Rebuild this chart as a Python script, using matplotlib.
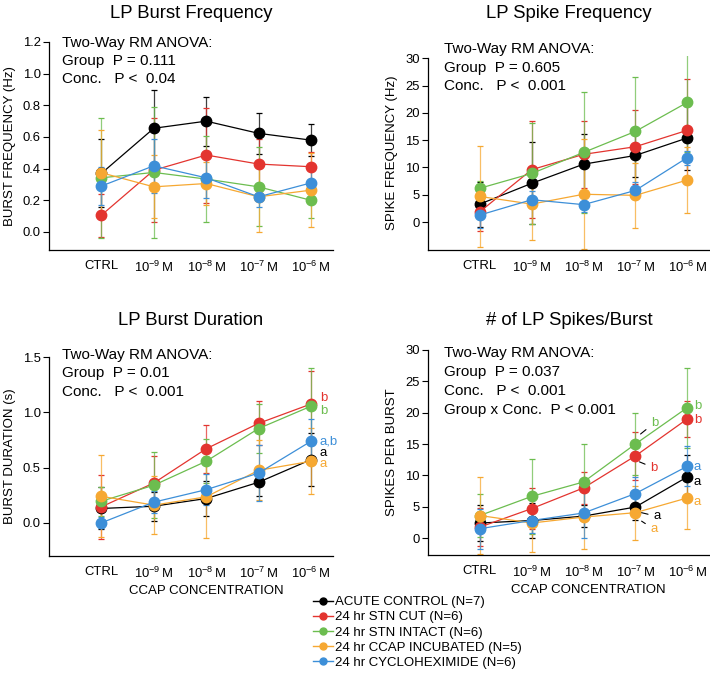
import matplotlib
matplotlib.use("Agg")
import matplotlib.pyplot as plt
from matplotlib.lines import Line2D

plt.rcParams["font.family"] = ["Liberation Sans", "DejaVu Sans"]
plt.rcParams["mathtext.default"] = "regular"

W, H = 710, 679

groups = ["ACUTE CONTROL (N=7)", "24 hr STN CUT (N=6)", "24 hr STN INTACT (N=6)",
          "24 hr CCAP INCUBATED (N=5)", "24 hr CYCLOHEXIMIDE (N=6)"]
colors = ["#000000", "#e3342f", "#6cbd4f", "#f6a832", "#3d8fd8"]
conc = ["CTRL", "10$^{-9}\\,$M", "10$^{-8}\\,$M", "10$^{-7}\\,$M", "10$^{-6}\\,$M"]

# rows follow the order of groups
burst_freq = [[0.37, 0.655, 0.70, 0.623, 0.58],
              [0.106, 0.39, 0.486, 0.429, 0.412],
              [0.342, 0.376, 0.334, 0.285, 0.20],
              [0.374, 0.285, 0.306, 0.222, 0.264],
              [0.29, 0.418, 0.342, 0.222, 0.31]]
burst_freq_err = [[0.215, 0.24, 0.155, 0.13, 0.10],
                  [0.135, 0.33, 0.30, 0.16, 0.09],
                  [0.38, 0.415, 0.27, 0.25, 0.11],
                  [0.27, 0.20, 0.135, 0.22, 0.235],
                  [0.12, 0.17, 0.13, 0.065, 0.08]]

spike_freq = [[3.3, 7.1, 10.6, 12.2, 15.4],
              [1.9, 9.6, 12.4, 13.8, 16.8],
              [6.2, 8.9, 12.75, 16.6, 21.9],
              [4.7, 3.3, 5.1, 4.9, 7.7],
              [1.3, 4.1, 3.2, 5.8, 11.8]]
spike_freq_err = [[4.1, 7.5, 5.6, 3.9, 5.9],
                  [3.6, 8.9, 6.1, 6.8, 9.3],
                  [1.3, 9.3, 11.0, 10.0, 9.0],
                  [9.3, 6.5, 10.1, 5.9, 6.1],
                  [2.4, 1.6, 1.4, 1.6, 1.3]]

burst_dur = [[0.13, 0.15, 0.22, 0.367, 0.572],
             [0.145, 0.36, 0.67, 0.90, 1.075],
             [0.196, 0.34, 0.557, 0.853, 1.055],
             [0.24, 0.16, 0.235, 0.475, 0.557],
             [0.0, 0.187, 0.30, 0.45, 0.738]]
burst_dur_err = [[0.19, 0.13, 0.16, 0.12, 0.24],
                 [0.29, 0.24, 0.215, 0.20, 0.30],
                 [0.13, 0.30, 0.20, 0.22, 0.35],
                 [0.37, 0.265, 0.37, 0.27, 0.30],
                 [0.05, 0.10, 0.14, 0.25, 0.20]]

spikes_burst = [[2.4, 2.8, 3.5, 4.95, 9.75],
                [1.75, 4.7, 8.0, 13.1, 19.0],
                [3.6, 6.65, 8.95, 15.0, 20.8],
                [3.6, 2.4, 3.35, 4.05, 6.4],
                [1.5, 2.8, 4.0, 7.1, 11.45]]
spikes_burst_err = [[2.8, 2.8, 1.7, 2.1, 3.5],
                    [3.0, 3.3, 2.5, 3.8, 2.9],
                    [3.5, 6.0, 6.1, 5.0, 6.4],
                    [6.1, 4.7, 5.1, 4.3, 4.9],
                    [3.2, 2.0, 4.0, 2.6, 3.2]]

fig = plt.figure(figsize=(W / 100, H / 100), dpi=100)


def add_ax(l, t, r, b):
    return fig.add_axes([l / W, 1 - b / H, (r - l) / W, (b - t) / H])


def ftext(x, y, s, **kw):
    fig.text(x / W, 1 - y / H, s, **kw)


def panel(ax, means, errs, ylim, yticks, ylabel, fmt):
    x = range(len(conc))
    for m, e, c in zip(means, errs, colors):
        ax.errorbar(x, m, yerr=e, color=c, lw=0.9, marker="o", ms=7.5,
                    mec=c, capsize=2.2, elinewidth=0.9, capthick=0.9,
                    ecolor=c)
    for ln in ax.collections:
        ln.set_alpha(0.75)
    ax.set_xlim(-1, 4.42)
    ax.set_ylim(*ylim)
    ax.set_yticks(yticks)
    ax.set_yticklabels([fmt.format(v) for v in yticks])
    ax.set_xticks(list(x))
    ax.set_xticklabels(conc)
    ax.spines["top"].set_visible(False)
    ax.spines["right"].set_visible(False)
    ax.spines["left"].set_bounds(ylim[0], yticks[-1])
    for s in ("left", "bottom"):
        ax.spines[s].set_linewidth(0.9)
    ax.tick_params(axis="x", length=0, pad=7, labelsize=9.4)
    ax.tick_params(axis="y", length=4, width=0.8, pad=2, labelsize=9.4)
    ax.set_ylabel(ylabel, fontsize=9.5, labelpad=5)


ax1 = add_ax(49, 42, 333, 250)
panel(ax1, burst_freq, burst_freq_err, (-0.114, 1.2),
      [0.0, 0.2, 0.4, 0.6, 0.8, 1.0, 1.2], "BURST FREQUENCY (Hz)", "{:.1f}")
ax2 = add_ax(428, 56, 709, 250)
panel(ax2, spike_freq, spike_freq_err, (-5.1, 30.4),
      [0, 5, 10, 15, 20, 25, 30], "SPIKE FREQUENCY (Hz)", "{:d}")
ax3 = add_ax(49, 357, 333, 556)
panel(ax3, burst_dur, burst_dur_err, (-0.3, 1.5),
      [0.0, 0.5, 1.0, 1.5], "BURST DURATION (s)", "{:.1f}")
ax4 = add_ax(428, 350, 709, 555)
panel(ax4, spikes_burst, spikes_burst_err, (-2.7, 30),
      [0, 5, 10, 15, 20, 25, 30], "SPIKES PER BURST", "{:d}")

for ax, xf in ((ax3, 0.553), (ax4, 0.571)):
    ax.set_xlabel("CCAP CONCENTRATION", fontsize=9.5, labelpad=3)
    ax.xaxis.label.set_x(xf)

# titles
ftext(191, 18, "LP Burst Frequency", fontsize=13.3, ha="center", va="baseline")
ftext(569, 18, "LP Spike Frequency", fontsize=13.3, ha="center", va="baseline")
ftext(191, 325, "LP Burst Duration", fontsize=13.3, ha="center", va="baseline")
ftext(569, 325, "# of LP Spikes/Burst", fontsize=13.3, ha="center", va="baseline")

# statistics boxes
stats = [
    (62, [47, 65, 83], ["Two-Way RM ANOVA:", "Group  P = 0.111", "Conc.   P <  0.04"]),
    (444, [53, 72, 90], ["Two-Way RM ANOVA:", "Group  P = 0.605", "Conc.   P <  0.001"]),
    (62, [359, 377, 396], ["Two-Way RM ANOVA:", "Group  P = 0.01", "Conc.   P <  0.001"]),
    (444, [357, 376, 395, 414], ["Two-Way RM ANOVA:", "Group  P = 0.037",
                                 "Conc.   P <  0.001", "Group x Conc.  P < 0.001"]),
]
for x0, ys, lines in stats:
    for y0, s in zip(ys, lines):
        ftext(x0, y0, s, fontsize=11, va="baseline", ha="left")

# significance letters
dur_letters = [("b", 1.13, 1), ("b", 1.01, 2), ("a,b", 0.74, 4), ("a", 0.63, 0), ("a", 0.53, 3)]
for s, y, gi in dur_letters:
    ax3.text(4.17, y, s, color=colors[gi], fontsize=9.5, va="center", ha="left")

spk_letters = [("b", 21.0, 2), ("b", 18.8, 1), ("a", 11.35, 4), ("a", 9.0, 0), ("a", 5.75, 3)]
for s, y, gi in spk_letters:
    ax4.text(4.13, y, s, color=colors[gi], fontsize=9.5, va="center", ha="left")

leaders = [("b", (3.1, 16.6), (3.3, 18.4), 2), ("b", (3.08, 12.15), (3.29, 11.2), 1),
           ("a", (3.12, 4.05), (3.35, 3.45), 0), ("a", (3.12, 2.7), (3.29, 1.4), 3)]
for s, xy, xyt, gi in leaders:
    ax4.annotate(s, xy=xy, xytext=xyt, color=colors[gi], fontsize=9.5,
                 va="center", ha="left",
                 arrowprops=dict(arrowstyle="-", color="k", lw=0.8,
                                 shrinkA=2, shrinkB=0))

handles = [Line2D([], [], color=c, marker="o", ms=5, lw=1) for c in colors]
fig.legend(handles, groups, loc="upper left", bbox_to_anchor=(313 / W, 1 - 596 / H),
           frameon=False, fontsize=9.5, handlelength=1.5, handletextpad=0.15,
           labelspacing=0.22, borderpad=0, borderaxespad=0)

fig.savefig("out.png", dpi=100)
